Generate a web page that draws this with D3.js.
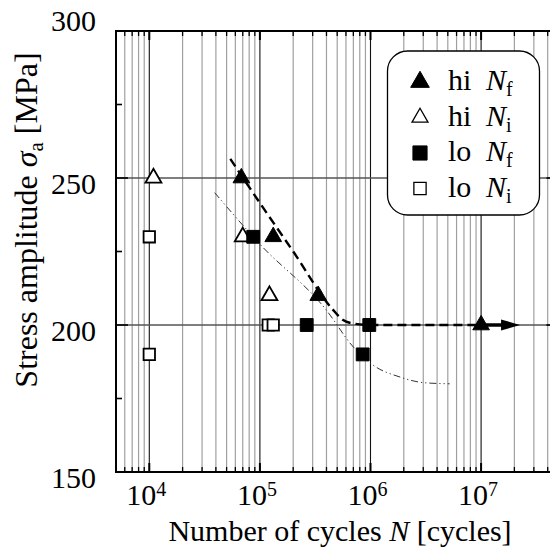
<!DOCTYPE html>
<html>
<head>
<meta charset="utf-8">
<script src="https://cdn.jsdelivr.net/npm/d3@7"></script>
<style>
  body { margin: 0; background: #fff; }
  svg { display: block; font-family: "Liberation Serif", "Times New Roman", serif; }
</style>
</head>
<body>
<div id="wrapper"></div>
<script>
// series (cycles, MPa)
const hiNfCycles = [6.8e4, 1.32e5, 3.37e5, 1e7];
const hiNfStress = [250, 230, 210, 200];
const hiNiCycles = [1.09e4, 7.0e4, 1.22e5];
const hiNiStress = [250, 230, 210];
const loNfCycles = [8.7e4, 2.65e5, 9.75e5, 8.5e5];
const loNfStress = [230, 200, 200, 190];
const loNiCycles = [1.0e4, 1.0e4, 1.19e5, 1.32e5];
const loNiStress = [230, 190, 200, 200];

// fitted curves
const hiFitCycles = [5.4e4, 1e5, 2e5, 4.5e5, 5.6e5, 7e5, 1e6, 1e7];
const hiFitStress = [256.5, 241.5, 225, 205.5, 201.8, 200.5, 200, 200];
const loFitCycles = [3.9e4, 1e5, 4e5, 7e5, 1.06e6, 1.85e6, 3e6, 5.2e6];
const loFitStress = [245, 227.5, 205, 192.5, 186.3, 182.3, 180.4, 180];

// run-out arrow
const runoutCycles = [1e7, 2.25e7];
const runoutStress = 200;

// axes
const xDomain = [5e3, 5e7];
const xMajorTicks = [1e4, 1e5, 1e6, 1e7];
const xTickExponents = ["4", "5", "6", "7"];
const yDomain = [150, 300];
const yMajorTicks = [150, 200, 250, 300];
const yMinorTicks = [175, 225, 275];
const yGridLines = [200, 250];

const legendNames = ["hi", "hi", "lo", "lo"];
const legendSubs = ["f", "i", "f", "i"];

function drawChart() {
  //* Step 1. Dimensions
  const dimensions = {
    width: 550,
    height: 548,
    margin: { top: 31, left: 116 },
    boundedWidth: 442.4,
    boundedHeight: 441,
  };

  const zip = (xs, ys) => xs.map((x, i) => [x, Array.isArray(ys) ? ys[i] : ys]);

  //* Step 2. Canvas
  const wrapper = d3
    .select("#wrapper")
    .append("svg")
    .attr("width", dimensions.width)
    .attr("height", dimensions.height);

  const bounds = wrapper
    .append("g")
    .attr("transform", `translate(${dimensions.margin.left},${dimensions.margin.top})`);

  //* Step 3. Scales
  const xScale = d3.scaleLog().domain(xDomain).range([0, dimensions.boundedWidth]);
  const yScale = d3.scaleLinear().domain(yDomain).range([dimensions.boundedHeight, 0]);

  // all k*10^n positions inside the domain
  const allXTicks = [];
  for (let e = 3; e <= 7; e++) {
    for (let k = 1; k <= 9; k++) {
      const v = k * Math.pow(10, e);
      if (v > xDomain[0] && v < xDomain[1]) allXTicks.push(v);
    }
  }
  const minorXTicks = allXTicks.filter((v) => !xMajorTicks.includes(v));

  //* Step 4. Grid
  const grid = bounds.append("g");
  grid
    .selectAll(".minor")
    .data(minorXTicks)
    .join("line")
    .attr("x1", (d) => xScale(d))
    .attr("x2", (d) => xScale(d))
    .attr("y1", 0)
    .attr("y2", dimensions.boundedHeight)
    .attr("stroke", "#a0a0a0")
    .attr("stroke-width", 1.2);
  grid
    .selectAll(".major")
    .data(xMajorTicks)
    .join("line")
    .attr("x1", (d) => xScale(d))
    .attr("x2", (d) => xScale(d))
    .attr("y1", 0)
    .attr("y2", dimensions.boundedHeight)
    .attr("stroke", "#111")
    .attr("stroke-width", 1.1);
  grid
    .selectAll(".hgrid")
    .data(yGridLines)
    .join("line")
    .attr("x1", 0)
    .attr("x2", dimensions.boundedWidth)
    .attr("y1", (d) => yScale(d))
    .attr("y2", (d) => yScale(d))
    .attr("stroke", "#555")
    .attr("stroke-width", 1.3);

  //* Step 5. Ticks and frame
  const ticks = bounds.append("g").attr("stroke", "#000");
  [0, dimensions.boundedHeight].forEach((yEdge) => {
    const dir = yEdge === 0 ? 1 : -1;
    ticks
      .append("g")
      .selectAll("line")
      .data(allXTicks)
      .join("line")
      .attr("x1", (d) => xScale(d))
      .attr("x2", (d) => xScale(d))
      .attr("y1", yEdge)
      .attr("y2", (d) => yEdge + dir * (xMajorTicks.includes(d) ? 9 : 5))
      .attr("stroke-width", (d) => (xMajorTicks.includes(d) ? 2 : 1.3));
  });
  [0, dimensions.boundedWidth].forEach((xEdge) => {
    const dir = xEdge === 0 ? 1 : -1;
    ticks
      .append("g")
      .selectAll("line")
      .data(yMajorTicks.concat(yMinorTicks))
      .join("line")
      .attr("x1", xEdge)
      .attr("x2", (d) => xEdge + dir * (yMajorTicks.includes(d) ? 12 : 6))
      .attr("y1", (d) => yScale(d))
      .attr("y2", (d) => yScale(d))
      .attr("stroke-width", 1.6);
  });
  bounds
    .append("rect")
    .attr("width", dimensions.boundedWidth)
    .attr("height", dimensions.boundedHeight)
    .attr("fill", "none")
    .attr("stroke", "#000")
    .attr("stroke-width", 2);

  //* Step 6. Fit curves
  const lineGenerator = d3
    .line()
    .x((d) => xScale(d[0]))
    .y((d) => yScale(d[1]))
    .curve(d3.curveMonotoneX);

  bounds
    .append("path")
    .attr("d", lineGenerator(zip(loFitCycles, loFitStress)))
    .attr("fill", "none")
    .attr("stroke", "#333")
    .attr("stroke-width", 1)
    .attr("stroke-dasharray", "7,3,1.2,3,1.2,3");

  bounds
    .append("path")
    .attr("d", lineGenerator(zip(hiFitCycles, hiFitStress)))
    .attr("fill", "none")
    .attr("stroke", "#000")
    .attr("stroke-width", 2.4)
    .attr("stroke-dasharray", "9,5");

  // run-out arrow
  const arrow = zip(runoutCycles, runoutStress);
  const ax0 = xScale(arrow[0][0]);
  const ax1 = xScale(arrow[1][0]);
  const ay = yScale(runoutStress);
  bounds
    .append("line")
    .attr("x1", ax0)
    .attr("x2", ax1 - 14)
    .attr("y1", ay)
    .attr("y2", ay)
    .attr("stroke", "#000")
    .attr("stroke-width", 3.5);
  bounds
    .append("path")
    .attr("d", `M${ax1},${ay}L${ax1 - 19},${ay - 5.5}L${ax1 - 19},${ay + 5.5}Z`)
    .attr("fill", "#000");

  //* Step 7. Markers
  const triangle = (size) => d3.symbol().type(d3.symbolTriangle).size(size)();
  const square = (size) => d3.symbol().type(d3.symbolSquare).size(size)();

  const series = [
    { pts: zip(hiNiCycles, hiNiStress), shape: triangle(110), fill: "#fff" },
    { pts: zip(loNiCycles, loNiStress), shape: square(130), fill: "#fff" },
    { pts: zip(loNfCycles, loNfStress), shape: square(165), fill: "#000" },
    { pts: zip(hiNfCycles, hiNfStress), shape: triangle(120), fill: "#000" },
  ];
  series.forEach((s) => {
    bounds
      .append("g")
      .selectAll("path")
      .data(s.pts)
      .join("path")
      .attr("d", s.shape)
      .attr("transform", (d) => `translate(${xScale(d[0])},${yScale(d[1])})`)
      .attr("fill", s.fill)
      .attr("stroke", "#000")
      .attr("stroke-width", s.fill === "#fff" ? 1.8 : 1);
  });

  //* Step 8. Tick labels
  const labels = wrapper.append("g").attr("font-size", 30).attr("fill", "#000");
  labels
    .selectAll(".ylab")
    .data(yMajorTicks)
    .join("text")
    .attr("x", dimensions.margin.left - 20)
    .attr("y", (d) => dimensions.margin.top + yScale(d) + (d === yDomain[1] ? -11 : 5))
    .attr("dy", "0.35em")
    .attr("text-anchor", "end")
    .text((d) => d);

  const xl = labels
    .selectAll(".xlab")
    .data(xMajorTicks)
    .join("text")
    .attr("x", (d) => dimensions.margin.left + xScale(d) - 3)
    .attr("y", 505)
    .attr("text-anchor", "middle");
  xl.append("tspan").text("10");
  xl.append("tspan")
    .attr("font-size", 20)
    .attr("dy", -9)
    .text((d, i) => xTickExponents[i]);

  //* Step 9. Axis titles
  const xTitle = labels
    .append("text")
    .attr("x", 340)
    .attr("y", 541)
    .attr("text-anchor", "middle");
  xTitle.append("tspan").text("Number of cycles ");
  xTitle.append("tspan").attr("font-style", "italic").text("N");
  xTitle.append("tspan").text(" [cycles]");

  const yTitle = labels
    .append("text")
    .attr("font-size", 32)
    .attr("transform", "translate(37,220) rotate(-90)")
    .attr("text-anchor", "middle");
  yTitle.append("tspan").text("Stress amplitude ");
  yTitle.append("tspan").attr("font-style", "italic").text("σ");
  yTitle.append("tspan").attr("font-size", 21).attr("dy", 6).text("a");
  yTitle.append("tspan").attr("dy", -6).text(" [MPa]");

  //* Step 10. Legend
  const legend = wrapper.append("g");
  legend
    .append("rect")
    .attr("x", 387.5)
    .attr("y", 51)
    .attr("width", 152)
    .attr("height", 164)
    .attr("rx", 20)
    .attr("fill", "#fff")
    .attr("stroke", "#000")
    .attr("stroke-width", 1.3);

  const legendShapes = [
    { shape: triangle(150), fill: "#000" },
    { shape: triangle(110), fill: "#fff" },
    { shape: square(200), fill: "#000" },
    { shape: square(150), fill: "#fff" },
  ];
  const rows = legend
    .selectAll(".row")
    .data(legendNames)
    .join("g")
    .attr("transform", (d, i) => `translate(420,${82 + i * 35.5})`);
  rows
    .append("path")
    .attr("d", (d, i) => legendShapes[i].shape)
    .attr("fill", (d, i) => legendShapes[i].fill)
    .attr("stroke", "#000")
    .attr("stroke-width", (d, i) => (legendShapes[i].fill === "#fff" ? 1.3 : 1));
  const rowText = rows.append("text").attr("font-size", 30).attr("y", 8);
  rowText.append("tspan").attr("x", 28).text((d) => d);
  rowText.append("tspan").attr("x", 66).attr("font-style", "italic").text("N");
  rowText
    .append("tspan")
    .attr("font-size", 20)
    .attr("dy", 6)
    .text((d, i) => legendSubs[i]);
}
drawChart();
</script>
</body>
</html>
